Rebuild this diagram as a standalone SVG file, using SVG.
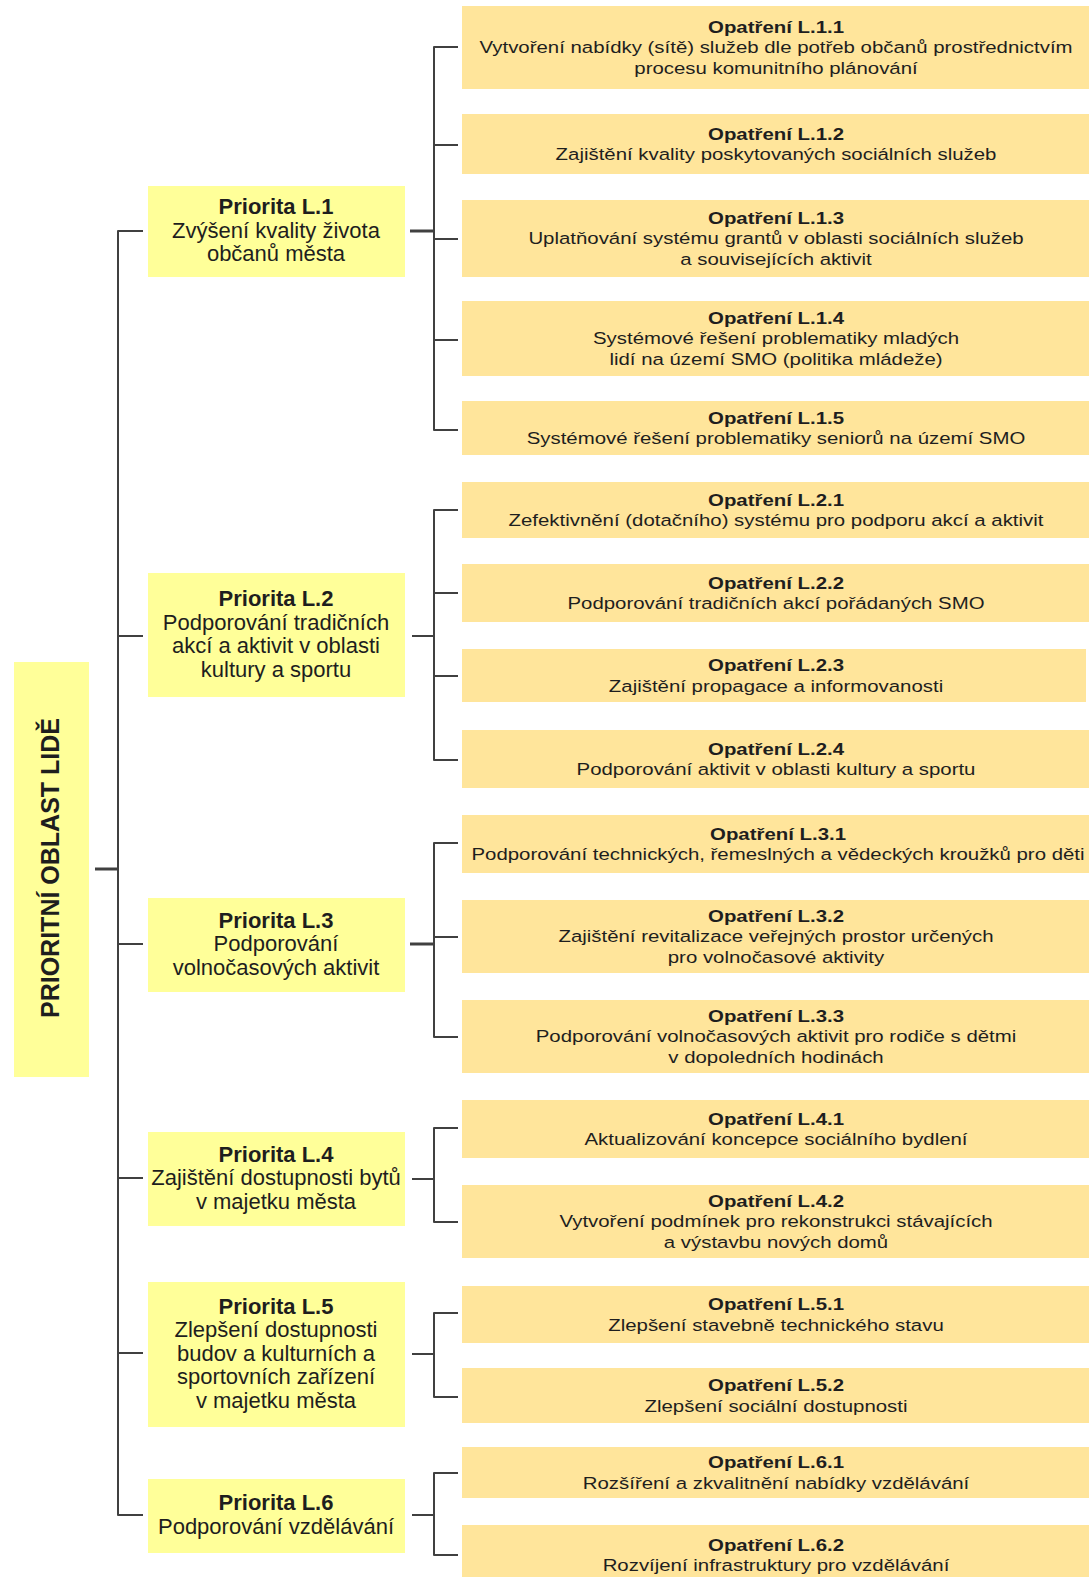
<svg xmlns="http://www.w3.org/2000/svg" width="1089" height="1577" viewBox="0 0 1089 1577">
  <style>
    .root { fill: #FFFF99; }
    .pri { fill: #FFFF99; }
    .opa { fill: #FFE59B; }
    .t { font-family: "Liberation Sans", Arial, sans-serif; text-anchor: middle; fill: #1e1e1e; }
    .pt { font-size: 22px; }
    .ot { font-size: 17px; }
    .rt { font-size: 25px; font-weight: bold; }
    .b { font-weight: bold; }
    .ln { stroke: #404040; stroke-width: 2; fill: none; stroke-linejoin: round; }
    .hv { stroke-width: 3; }
  </style>

  <rect width="1089" height="1577" fill="#ffffff"/>

  <!-- connectors -->
  <g id="connectors">
    <path class="ln hv" d="M95,869 H118"/>
    <path class="ln" d="M143,231 H118 V1515 H143"/>
    <path class="ln" d="M118,636 H143 M118,944 H143 M118,1178 H143 M118,1353 H143"/>

    <path class="ln hv" d="M410,231 H434"/>
    <path class="ln" d="M412,636 H434"/>
    <path class="ln hv" d="M410,944 H434"/>
    <path class="ln" d="M412,1179 H434 M412,1354 H434 M412,1515 H434"/>

    <path class="ln" d="M458,47 H434 V430 H458 M434,145 H458 M434,239 H458 M434,340 H458"/>
    <path class="ln" d="M458,510 H434 V760 H458 M434,593 H458 M434,676 H458"/>
    <path class="ln" d="M458,843 H434 V1037 H458 M434,937 H458"/>
    <path class="ln" d="M458,1128 H434 V1222 H458"/>
    <path class="ln" d="M458,1313 H434 V1397 H458"/>
    <path class="ln" d="M458,1473 H434 V1555 H458"/>
  </g>

  <!-- root area -->
  <g id="oblast-lide">
    <rect class="root" x="14" y="662" width="75" height="415"/>
    <text class="t rt" transform="translate(59,868) rotate(-90)" x="0" y="0">PRIORITNÍ OBLAST LIDĚ</text>
  </g>

  <!-- priorities -->
  <g id="priorita-l1">
    <rect class="pri" x="148" y="186" width="257" height="91"/>
    <text class="t pt" x="276" y="214"><tspan class="b">Priorita L.1</tspan><tspan x="276" dy="23.5">Zvýšení kvality života</tspan><tspan x="276" dy="23.5">občanů města</tspan></text>
  </g>
  <g id="priorita-l2">
    <rect class="pri" x="148" y="573" width="257" height="124"/>
    <text class="t pt" x="276" y="606"><tspan class="b">Priorita L.2</tspan><tspan x="276" dy="23.5">Podporování tradičních</tspan><tspan x="276" dy="23.5">akcí a aktivit v oblasti</tspan><tspan x="276" dy="23.5">kultury a sportu</tspan></text>
  </g>
  <g id="priorita-l3">
    <rect class="pri" x="148" y="898" width="257" height="94"/>
    <text class="t pt" x="276" y="927.5"><tspan class="b">Priorita L.3</tspan><tspan x="276" dy="23.5">Podporování</tspan><tspan x="276" dy="23.5">volnočasových aktivit</tspan></text>
  </g>
  <g id="priorita-l4">
    <rect class="pri" x="148" y="1132" width="257" height="94"/>
    <text class="t pt" x="276" y="1161.5"><tspan class="b">Priorita L.4</tspan><tspan x="276" dy="23.5">Zajištění dostupnosti bytů</tspan><tspan x="276" dy="23.5">v majetku města</tspan></text>
  </g>
  <g id="priorita-l5">
    <rect class="pri" x="148" y="1282" width="257" height="145"/>
    <text class="t pt" x="276" y="1313.5"><tspan class="b">Priorita L.5</tspan><tspan x="276" dy="23.5">Zlepšení dostupnosti</tspan><tspan x="276" dy="23.5">budov a kulturních a</tspan><tspan x="276" dy="23.5">sportovních zařízení</tspan><tspan x="276" dy="23.5">v majetku města</tspan></text>
  </g>
  <g id="priorita-l6">
    <rect class="pri" x="148" y="1479" width="257" height="74"/>
    <text class="t pt" x="276" y="1510"><tspan class="b">Priorita L.6</tspan><tspan x="276" dy="23.5">Podporování vzdělávání</tspan></text>
  </g>

  <!-- measures (text is drawn slightly widened) -->
  <g id="opatreni-l11">
    <rect class="opa" x="462" y="6" width="627" height="83"/>
    <text class="t ot" transform="translate(776,32.5) scale(1.2,1)"><tspan class="b" x="0">Opatření L.1.1</tspan><tspan x="0" dy="21">Vytvoření nabídky (sítě) služeb dle potřeb občanů prostřednictvím</tspan><tspan x="0" dy="21">procesu komunitního  plánování</tspan></text>
  </g>
  <g id="opatreni-l12">
    <rect class="opa" x="462" y="114" width="627" height="60"/>
    <text class="t ot" transform="translate(776,139.5) scale(1.2,1)"><tspan class="b" x="0">Opatření L.1.2</tspan><tspan x="0" dy="21">Zajištění kvality poskytovaných sociálních služeb</tspan></text>
  </g>
  <g id="opatreni-l13">
    <rect class="opa" x="462" y="200" width="627" height="77"/>
    <text class="t ot" transform="translate(776,223.5) scale(1.2,1)"><tspan class="b" x="0">Opatření L.1.3</tspan><tspan x="0" dy="21">Uplatňování systému grantů v oblasti sociálních služeb</tspan><tspan x="0" dy="21">a souvisejících aktivit</tspan></text>
  </g>
  <g id="opatreni-l14">
    <rect class="opa" x="462" y="301" width="627" height="75"/>
    <text class="t ot" transform="translate(776,323.5) scale(1.2,1)"><tspan class="b" x="0">Opatření L.1.4</tspan><tspan x="0" dy="21">Systémové řešení problematiky  mladých</tspan><tspan x="0" dy="21">lidí na území SMO  (politika mládeže)</tspan></text>
  </g>
  <g id="opatreni-l15">
    <rect class="opa" x="462" y="401" width="627" height="54"/>
    <text class="t ot" transform="translate(776,423.5) scale(1.2,1)"><tspan class="b" x="0">Opatření L.1.5</tspan><tspan x="0" dy="21">Systémové řešení problematiky  seniorů na území SMO</tspan></text>
  </g>

  <g id="opatreni-l21">
    <rect class="opa" x="462" y="482" width="627" height="56"/>
    <text class="t ot" transform="translate(776,505.5) scale(1.2,1)"><tspan class="b" x="0">Opatření L.2.1</tspan><tspan x="0" dy="21">Zefektivnění (dotačního) systému pro podporu akcí a aktivit</tspan></text>
  </g>
  <g id="opatreni-l22">
    <rect class="opa" x="462" y="564" width="627" height="58"/>
    <text class="t ot" transform="translate(776,588.5) scale(1.2,1)"><tspan class="b" x="0">Opatření L.2.2</tspan><tspan x="0" dy="21">Podporování tradičních akcí pořádaných SMO</tspan></text>
  </g>
  <g id="opatreni-l23">
    <rect class="opa" x="462" y="649" width="624" height="53"/>
    <text class="t ot" transform="translate(776,671) scale(1.2,1)"><tspan class="b" x="0">Opatření L.2.3</tspan><tspan x="0" dy="21">Zajištění propagace a informovanosti</tspan></text>
  </g>
  <g id="opatreni-l24">
    <rect class="opa" x="462" y="730" width="627" height="58"/>
    <text class="t ot" transform="translate(776,754.5) scale(1.2,1)"><tspan class="b" x="0">Opatření L.2.4</tspan><tspan x="0" dy="21">Podporování aktivit  v oblasti kultury a sportu</tspan></text>
  </g>

  <g id="opatreni-l31">
    <rect class="opa" x="462" y="815" width="627" height="58"/>
    <text class="t ot" transform="translate(778,839.5) scale(1.2,1)"><tspan class="b" x="0">Opatření L.3.1</tspan><tspan x="0" dy="21">Podporování technických, řemeslných a vědeckých kroužků pro děti</tspan></text>
  </g>
  <g id="opatreni-l32">
    <rect class="opa" x="462" y="900" width="627" height="73"/>
    <text class="t ot" transform="translate(776,921.5) scale(1.2,1)"><tspan class="b" x="0">Opatření L.3.2</tspan><tspan x="0" dy="21">Zajištění revitalizace veřejných prostor určených</tspan><tspan x="0" dy="21">pro volnočasové aktivity</tspan></text>
  </g>
  <g id="opatreni-l33">
    <rect class="opa" x="462" y="1000" width="627" height="73"/>
    <text class="t ot" transform="translate(776,1021.5) scale(1.2,1)"><tspan class="b" x="0">Opatření L.3.3</tspan><tspan x="0" dy="21">Podporování volnočasových aktivit pro rodiče s dětmi</tspan><tspan x="0" dy="21">v dopoledních hodinách</tspan></text>
  </g>

  <g id="opatreni-l41">
    <rect class="opa" x="462" y="1100" width="627" height="58"/>
    <text class="t ot" transform="translate(776,1124.5) scale(1.2,1)"><tspan class="b" x="0">Opatření L.4.1</tspan><tspan x="0" dy="21">Aktualizování koncepce sociálního bydlení</tspan></text>
  </g>
  <g id="opatreni-l42">
    <rect class="opa" x="462" y="1185" width="627" height="73"/>
    <text class="t ot" transform="translate(776,1206.5) scale(1.2,1)"><tspan class="b" x="0">Opatření L.4.2</tspan><tspan x="0" dy="21">Vytvoření podmínek  pro rekonstrukci stávajících</tspan><tspan x="0" dy="21">a výstavbu nových domů</tspan></text>
  </g>

  <g id="opatreni-l51">
    <rect class="opa" x="462" y="1286" width="627" height="57"/>
    <text class="t ot" transform="translate(776,1310) scale(1.2,1)"><tspan class="b" x="0">Opatření L.5.1</tspan><tspan x="0" dy="21">Zlepšení stavebně technického stavu</tspan></text>
  </g>
  <g id="opatreni-l52">
    <rect class="opa" x="462" y="1368" width="627" height="55"/>
    <text class="t ot" transform="translate(776,1391) scale(1.2,1)"><tspan class="b" x="0">Opatření L.5.2</tspan><tspan x="0" dy="21">Zlepšení sociální dostupnosti</tspan></text>
  </g>

  <g id="opatreni-l61">
    <rect class="opa" x="462" y="1447" width="627" height="51"/>
    <text class="t ot" transform="translate(776,1468) scale(1.2,1)"><tspan class="b" x="0">Opatření L.6.1</tspan><tspan x="0" dy="21">Rozšíření a zkvalitnění nabídky vzdělávání</tspan></text>
  </g>
  <g id="opatreni-l62">
    <rect class="opa" x="462" y="1525" width="627" height="60"/>
    <text class="t ot" transform="translate(776,1550.5) scale(1.2,1)"><tspan class="b" x="0">Opatření L.6.2</tspan><tspan x="0" dy="21">Rozvíjení infrastruktury pro vzdělávání</tspan></text>
  </g>
</svg>
